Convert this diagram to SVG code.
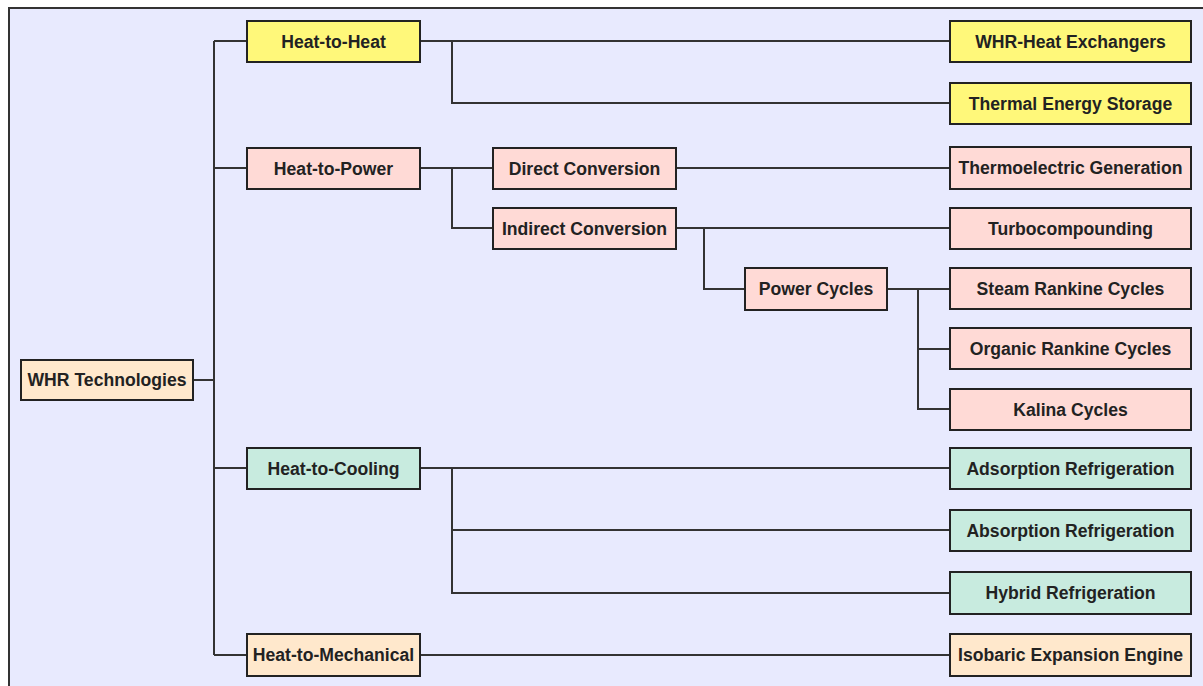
<svg xmlns="http://www.w3.org/2000/svg" width="1203" height="686" viewBox="0 0 1203 686">
<style>
.n rect{stroke:#222;stroke-width:2}
.n text{font-family:"Liberation Sans",Arial,sans-serif;font-weight:bold;font-size:17.6px;fill:#222;text-anchor:middle;dominant-baseline:central}
.y rect{fill:#FFF87A}
.p rect{fill:#FFDAD6}
.t rect{fill:#C8EBDF}
.o rect{fill:#FFE8CC}
#edges path{fill:none;stroke:#333;stroke-width:2}
</style>
<rect width="1203" height="686" fill="#fff"/>
<rect x="9" y="8" width="1210" height="700" fill="#E8EAFE" stroke="#333" stroke-width="2"/>
<g id="edges">
<path d="M193 380H214M214 41V655M214 41H247M214 168H247M214 468H247M214 655H247"/>
<path d="M214 105V146" stroke-width="3"/>
<path d="M420 41H950M452 41V103H950"/>
<path d="M420 168H493M452 168V228H493"/>
<path d="M676 168H950"/>
<path d="M676 228H950M704 228V289H745"/>
<path d="M887 289H950M918 289V409H950M918 349H950"/>
<path d="M420 468H950M452 468V593H950M452 530H950"/>
<path d="M420 655H950"/>
</g>
<g id="whr" class="n o"><rect x="21" y="360" width="172" height="40"/><text x="107" y="380">WHR Technologies</text></g>
<g id="h2h" class="n y"><rect x="247" y="21" width="173" height="41"/><text x="333.5" y="41.5">Heat-to-Heat</text></g>
<g id="h2p" class="n p"><rect x="247" y="148" width="173" height="41"/><text x="333.5" y="168.5">Heat-to-Power</text></g>
<g id="h2c" class="n t"><rect x="247" y="448" width="173" height="41"/><text x="333.5" y="468.5">Heat-to-Cooling</text></g>
<g id="h2m" class="n o"><rect x="247" y="634" width="173" height="42"/><text x="333.5" y="655">Heat-to-Mechanical</text></g>
<g id="direct" class="n p"><rect x="493" y="148" width="183" height="41"/><text x="584.5" y="168.5">Direct Conversion</text></g>
<g id="indirect" class="n p"><rect x="493" y="208" width="183" height="41"/><text x="584.5" y="228.5">Indirect Conversion</text></g>
<g id="power" class="n p"><rect x="745" y="268" width="142" height="42"/><text x="816" y="289">Power Cycles</text></g>
<g id="hx" class="n y"><rect x="950" y="21" width="241" height="41"/><text x="1070.5" y="41.5">WHR-Heat Exchangers</text></g>
<g id="tes" class="n y"><rect x="950" y="83" width="241" height="41"/><text x="1070.5" y="103.5">Thermal Energy Storage</text></g>
<g id="teg" class="n p"><rect x="950" y="147" width="241" height="42"/><text x="1070.5" y="168">Thermoelectric Generation</text></g>
<g id="turbo" class="n p"><rect x="950" y="208" width="241" height="41"/><text x="1070.5" y="228.5">Turbocompounding</text></g>
<g id="src" class="n p"><rect x="950" y="268" width="241" height="41"/><text x="1070.5" y="288.5">Steam Rankine Cycles</text></g>
<g id="orc" class="n p"><rect x="950" y="328" width="241" height="41"/><text x="1070.5" y="348.5">Organic Rankine Cycles</text></g>
<g id="kalina" class="n p"><rect x="950" y="389" width="241" height="41"/><text x="1070.5" y="409.5">Kalina Cycles</text></g>
<g id="ads" class="n t"><rect x="950" y="448" width="241" height="41"/><text x="1070.5" y="468.5">Adsorption Refrigeration</text></g>
<g id="abs" class="n t"><rect x="950" y="510" width="241" height="41"/><text x="1070.5" y="530.5">Absorption Refrigeration</text></g>
<g id="hyb" class="n t"><rect x="950" y="572" width="241" height="42"/><text x="1070.5" y="593">Hybrid Refrigeration</text></g>
<g id="iso" class="n o"><rect x="950" y="634" width="241" height="42"/><text x="1070.5" y="655">Isobaric Expansion Engine</text></g>
</svg>
